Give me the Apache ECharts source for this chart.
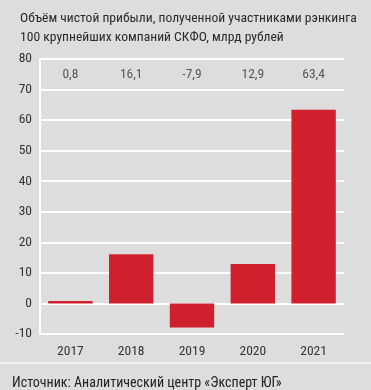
<!DOCTYPE html>
<html><head><meta charset="utf-8">
<script src="https://cdn.jsdelivr.net/npm/echarts@6/dist/echarts.min.js"></script>
<style>html,body{margin:0;padding:0;background:#dddddd;}#c{width:371px;height:390px;}</style>
</head><body><div id="c"></div>
<script>
var categories = ['2017','2018','2019','2020','2021'];
var values = [0.8, 16.1, -7.9, 12.9, 63.4];
var valueLabels = ['0,8','16,1','-7,9','12,9','63,4'];
var yTicks = [-10,0,10,20,30,40,50,60,70,80];
var labelRow = [75,75,75,75,75];
var titleText = 'Объём чистой прибыли, полученной участниками рэнкинга\n100 крупнейших компаний СКФО, млрд рублей';
var sourceText = 'Источник: Аналитический центр «Эксперт ЮГ»';
var FONT = '"Liberation Sans Narrow", "Roboto Condensed", "DejaVu Sans Condensed", sans-serif';
var chart = echarts.init(document.getElementById('c'));
chart.setOption({
  backgroundColor: '#dddddd',
  animation: false,
  title: [{
    text: titleText, left: 15, top: 4,
    textStyle: {fontFamily: FONT, fontSize: 13.6, fontWeight: 'normal', color: '#2a2a2a', lineHeight: 19}
  },{
    text: sourceText, left: 7, top: 369,
    textStyle: {fontFamily: FONT, fontSize: 14, fontWeight: 'normal', color: '#222', lineHeight: 18}
  }],
  graphic: [{type:'rect', shape:{x:0,y:362,width:371,height:2}, style:{fill:'#f2f2f2'}}],
  grid: {left: 40, right: 27, top: 59, bottom: 56},
  xAxis: {
    type: 'category', data: categories,
    axisLine: {show: false}, axisTick: {show: false},
    axisLabel: {fontFamily: FONT, fontSize: 13.5, color: '#333', margin: 11}
  },
  yAxis: {
    type: 'value', min: yTicks[0], max: yTicks[yTicks.length-1], interval: 10,
    axisLine: {show: true, lineStyle: {color: '#ffffff', width: 2}},
    axisTick: {show: false},
    splitLine: {lineStyle: {color: '#ffffff', width: 2}},
    axisLabel: {fontFamily: FONT, fontSize: 13.5, color: '#333', margin: 8}
  },
  series: [{
    type: 'bar', data: values, barWidth: '73%',
    itemStyle: {color: '#d0202e'}
  },{
    type: 'scatter', data: labelRow, symbolSize: 0, silent: true,
    label: {show: true, position: 'inside', fontFamily: FONT, fontSize: 13.5, color: '#333',
      formatter: function(p){ return valueLabels[p.dataIndex]; }}
  }]
});
</script></body></html>
